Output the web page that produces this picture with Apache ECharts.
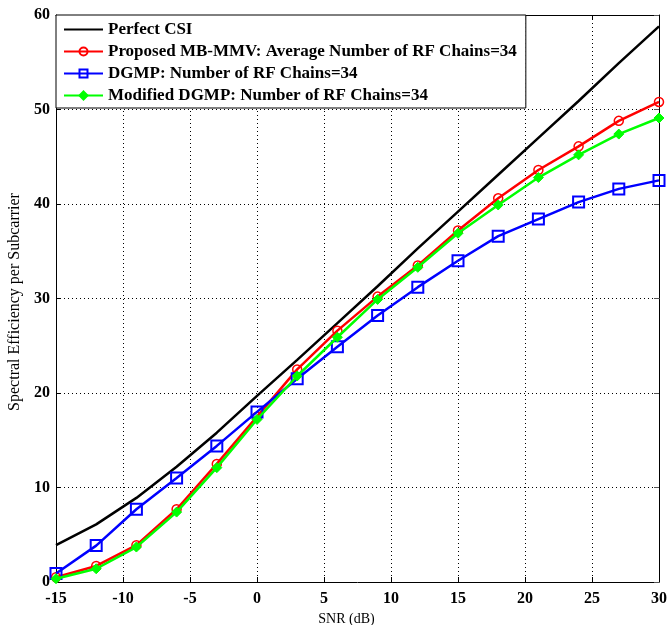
<!DOCTYPE html>
<html>
<head>
<meta charset="utf-8">
<script src="https://cdn.jsdelivr.net/npm/echarts@6/dist/echarts.min.js"></script>
<style>
  html, body { margin: 0; padding: 0; background: #fff; }
  #chart { width: 668px; height: 625px; }
</style>
</head>
<body>
<div id="chart"></div>
<script>
// SNR sweep (dB)
const snr = [-15, -12, -9, -6, -3, 0, 3, 6, 9, 12, 15, 18, 21, 24, 27, 30];

// Spectral efficiency per subcarrier for each scheme
const perfectCSI = [3.9, 6.1, 8.9, 12.2, 15.8, 19.7, 23.5, 27.4, 31.3, 35.3, 39.2, 43.1, 47.0, 50.9, 54.9, 58.8];
const proposedMBMMV = [0.5, 1.7, 3.9, 7.7, 12.5, 17.5, 22.5, 26.6, 30.2, 33.5, 37.2, 40.6, 43.6, 46.1, 48.8, 50.8];
const dgmp = [0.9, 3.85, 7.7, 11.0, 14.4, 18.0, 21.5, 24.9, 28.2, 31.2, 34.0, 36.6, 38.4, 40.2, 41.6, 42.5];
const modifiedDGMP = [0.35, 1.4, 3.7, 7.4, 12.1, 17.2, 21.8, 25.9, 29.9, 33.3, 36.9, 39.9, 42.8, 45.2, 47.4, 49.1];

// Axis ranges and legend labels
const xTicks = { min: -15, max: 30, step: 5 };
const yTicks = { min: 0, max: 60, step: 10 };
const names = [
  'Perfect CSI',
  'Proposed MB-MMV: Average Number of RF Chains=34',
  'DGMP: Number of RF Chains=34',
  'Modified DGMP: Number of RF Chains=34'
];

const pairs = arr => snr.map((x, i) => [x, arr[i]]);
const serif = '"Liberation Serif", "Times New Roman", serif';

const gridLine = { show: true, lineStyle: { color: '#000', type: [1, 3], width: 1 } };
const frameLine = { show: true, onZero: false, lineStyle: { color: '#000', width: 1 } };

const chart = echarts.init(document.getElementById('chart'));
chart.setOption({
  animation: false,
  backgroundColor: '#fff',
  grid: { left: 56, right: 9, top: 15, bottom: 43, containLabel: false, outerBoundsMode: 'none' },
  legend: {
    orient: 'vertical',
    left: 56,
    top: 15,
    padding: [6, 9, 4, 7],
    itemWidth: 39,
    itemHeight: 10,
    itemGap: 5,
    backgroundColor: '#fff',
    borderColor: '#000',
    borderWidth: 1,
    borderRadius: 0,
    textStyle: { fontFamily: serif, fontWeight: 'bold', fontSize: 17, color: '#000', lineHeight: 10 },
    data: [
      { name: names[0], itemStyle: { color: 'rgba(0,0,0,0)', borderColor: 'rgba(0,0,0,0)', borderWidth: 0 } },
      names[1],
      names[2],
      names[3]
    ]
  },
  xAxis: [
    {
      type: 'value', position: 'bottom',
      min: xTicks.min, max: xTicks.max, interval: xTicks.step,
      name: 'SNR (dB)', nameLocation: 'middle', nameGap: 25,
      nameTextStyle: { fontFamily: serif, fontSize: 14, color: '#000', padding: [0, 22, 0, 0] },
      axisLine: frameLine,
      axisTick: { show: true, inside: true, length: 5, lineStyle: { color: '#000' } },
      axisLabel: { fontFamily: serif, fontWeight: 'bold', fontSize: 16, color: '#000', margin: 9 },
      splitLine: gridLine
    },
    {
      type: 'value', position: 'top',
      min: xTicks.min, max: xTicks.max, interval: xTicks.step,
      axisLine: frameLine,
      axisTick: { show: true, inside: true, length: 5, lineStyle: { color: '#000' } },
      axisLabel: { show: false },
      splitLine: { show: false }
    }
  ],
  yAxis: [
    {
      type: 'value', position: 'left',
      min: yTicks.min, max: yTicks.max, interval: yTicks.step,
      name: 'Spectral Efficiency per Subcarrier', nameLocation: 'middle', nameGap: 31,
      nameTextStyle: { fontFamily: serif, fontSize: 16, color: '#000', padding: [0, 7, 0, 0] },
      axisLine: frameLine,
      axisTick: { show: true, inside: true, length: 5, lineStyle: { color: '#000' } },
      axisLabel: { fontFamily: serif, fontWeight: 'bold', fontSize: 16, color: '#000', margin: 6 },
      splitLine: gridLine
    },
    {
      type: 'value', position: 'right',
      min: yTicks.min, max: yTicks.max, interval: yTicks.step,
      axisLine: frameLine,
      axisTick: { show: true, inside: true, length: 5, lineStyle: { color: '#555' } },
      axisLabel: { show: false },
      splitLine: { show: false }
    }
  ],
  series: [
    {
      name: names[0], type: 'line', data: pairs(perfectCSI),
      symbol: 'none', z: 2,
      lineStyle: { color: '#000', width: 2.5 },
      itemStyle: { color: '#000' }
    },
    {
      name: names[1], type: 'line', data: pairs(proposedMBMMV),
      symbol: 'circle', symbolSize: 9, z: 3,
      lineStyle: { color: '#ff0000', width: 2.5 },
      itemStyle: { color: 'rgba(255,255,255,0)', borderColor: '#ff0000', borderWidth: 1.5 }
    },
    {
      name: names[2], type: 'line', data: pairs(dgmp),
      symbol: 'rect', symbolSize: 11, z: 4,
      lineStyle: { color: '#0000ff', width: 2.5 },
      itemStyle: { color: 'rgba(255,255,255,0)', borderColor: '#0000ff', borderWidth: 2 }
    },
    {
      name: names[3], type: 'line', data: pairs(modifiedDGMP),
      symbol: 'diamond', symbolSize: 10, z: 5,
      lineStyle: { color: '#00ff00', width: 2.5 },
      itemStyle: { color: '#00ff00', borderColor: '#00ff00', borderWidth: 1 }
    }
  ]
});
</script>
</body>
</html>
